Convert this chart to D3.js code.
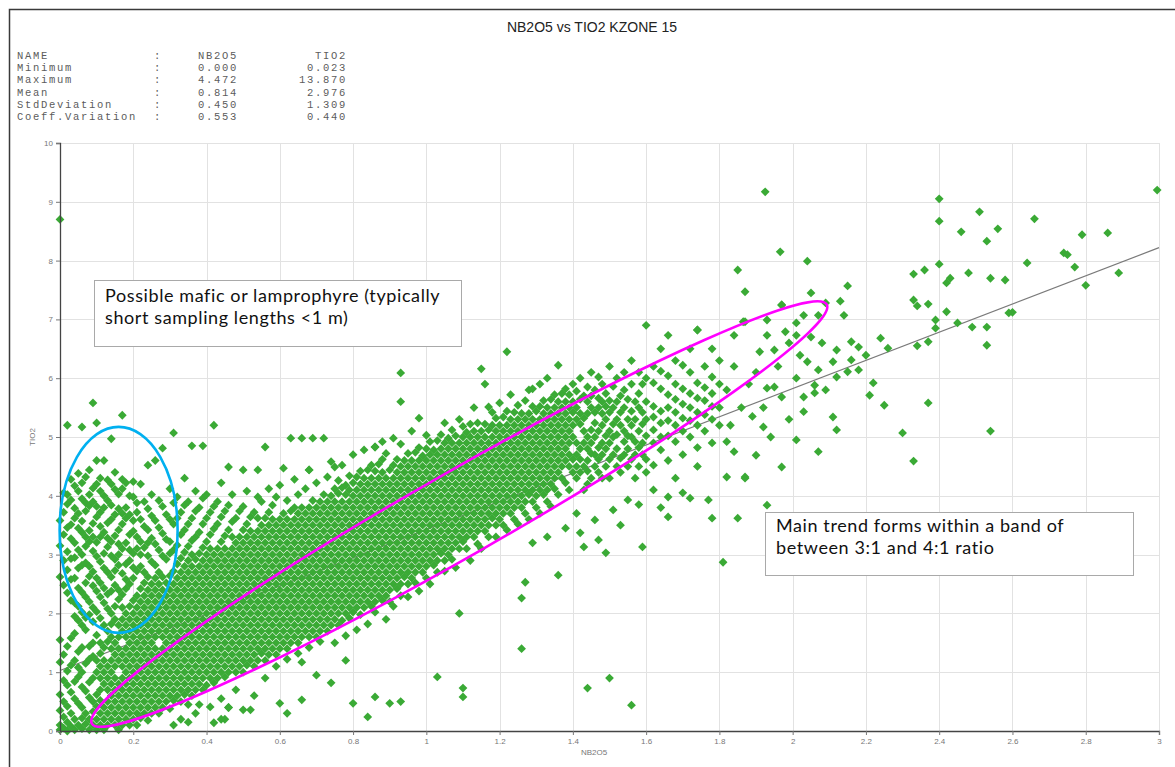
<!DOCTYPE html>
<html>
<head>
<meta charset="utf-8">
<title>NB2O5 vs TIO2 KZONE 15</title>
<script src="https://cdn.jsdelivr.net/npm/d3@7"></script>
<style>
  body { margin: 0; background: #fff; }
  svg { display: block; }
  .axis-text { font-family: "Liberation Sans", Arial, sans-serif; font-size: 8px; fill: #777; }
  .stats { font-family: "Liberation Mono", "Courier New", monospace; font-size: 10.5px; fill: #5c5c5c; letter-spacing: 1.7px; }
  .note { font-family: Lato, "Open Sans", sans-serif; font-size: 18px; letter-spacing: 0.6px; fill: #111; }
</style>
</head>
<body>
<div id="chart"></div>
<script>
// Summary statistics printed above the plot
const statNames = ["NAME", "Minimum", "Maximum", "Mean", "StdDeviation", "Coeff.Variation"];
const statNb2o5 = ["NB2O5", "0.000", "4.472", "0.814", "0.450", "0.553"];
const statTio2 = ["TIO2", "0.023", "13.870", "2.976", "1.309", "0.440"];

// Axis ticks
const nb2o5Ticks = [0, 0.2, 0.4, 0.6, 0.8, 1, 1.2, 1.4, 1.6, 1.8, 2, 2.2, 2.4, 2.6, 2.8, 3];
const tio2Ticks = [0, 1, 2, 3, 4, 5, 6, 7, 8, 9, 10];

// Regression line end points (NB2O5 -> TIO2)
const trendNb2o5 = [0, 3];
const trendTio2 = [1.03, 8.22];

// Samples, grouped by NB2O5 value: [NB2O5, [TIO2 values]]
const sampleColumns = [
  [0.00, [0.02,0.1,0.35,0.62,1.17,1.55,2.62,3.15,3.58,8.7]],
  [0.01, [0.05,0.24,0.5,0.86,1.3,2.48,2.9,3.34,3.72,4.05]],
  [0.02, [0,0.15,0.42,0.78,1.02,1.44,2.35,2.74,3.05,3.46,3.86,4.02,5.2]],
  [0.03, [0.08,0.3,0.66,1.12,1.58,2.22,2.58,2.93,3.27,3.51,3.93,4.28]],
  [0.04, [0.02,0.2,0.55,0.84,1.2,1.66,1.95,2.18,2.6,2.95,3.2,3.62,3.79,4.17]],
  [0.05, [0.1,0.47,0.92,1.08,1.35,1.88,2.12,2.43,2.77,3.08,3.45,3.7,4.08,4.38]],
  [0.06, [0.04,0.22,0.4,0.75,1.0,1.42,1.8,2.02,2.36,2.82,3.0,3.38,3.57,3.95,4.22,5.17]],
  [0.07, [0.12,0.3,0.68,1.15,1.72,1.93,2.28,2.52,2.86,3.14,3.3,3.74,3.88,4.32]],
  [0.08, [0.02,0.2,0.57,0.83,1.22,1.44,1.98,2.2,2.63,2.8,3.22,3.41,3.83,4.02,4.44]],
  [0.09, [0.1,0.33,0.5,0.9,1.27,1.5,1.86,2.1,2.47,2.71,3.06,3.3,3.53,3.9,4.13,5.58]],
  [0.10, [0.02,0.2,0.42,0.62,1.0,1.2,1.63,2.03,2.38,2.6,2.97,3.21,3.64,3.82,4.2,4.6,5.24]],
  [0.11, [0.1,0.3,0.52,0.7,0.9,1.1,1.32,1.5,1.92,2.28,2.52,2.88,3.3,3.48,3.72,4.08,4.3]],
  [0.12, [0.02,0.2,0.4,0.8,1.0,1.2,1.42,1.8,2.18,2.43,2.77,3.02,3.38,3.8,4.0,4.6]],
  [0.13, [0.1,0.3,0.5,0.7,0.9,1.1,1.52,1.7,2.08,2.33,2.7,3.13,3.28,3.54,3.92,4.27]],
  [0.14, [0.2,0.4,0.6,0.8,1.0,1.2,1.4,1.6,1.82,2.0,2.38,2.62,2.98,3.22,3.6,3.84,4.2,4.97]],
  [0.15, [0.1,0.3,0.5,0.7,0.9,1.1,1.3,1.5,1.9,2.12,2.48,2.73,2.92,3.32,3.68,4.11,4.4]],
  [0.16, [0.02,0.2,0.4,0.6,0.8,1.2,1.4,1.6,1.8,2.24,2.4,2.82,3.0,3.18,3.42,3.78,4.03]],
  [0.17, [0.1,0.3,0.5,0.7,0.9,1.1,1.3,1.7,1.9,2.1,2.32,2.68,3.1,3.52,3.7,4.12,4.28,5.37]],
  [0.18, [0.2,0.4,0.6,0.8,1.0,1.2,1.4,1.6,1.8,2.0,2.42,2.58,2.84,3.2,3.62,3.8,4.22]],
  [0.19, [0.1,0.3,0.5,0.7,0.9,1.1,1.3,1.5,1.7,1.9,2.12,2.5,2.9,3.08,3.34,3.68,4.0]],
  [0.20, [0.2,0.4,0.6,0.8,1.0,1.2,1.4,1.6,1.8,2.0,2.22,2.6,2.78,3.02,3.4,3.58,3.98,4.24]],
  [0.21, [0.1,0.3,0.5,0.7,0.9,1.1,1.3,1.5,1.7,1.9,2.1,2.3,2.72,3.1,3.3,3.72,3.88]],
  [0.22, [0.22,0.4,0.6,0.8,1.0,1.2,1.4,1.6,1.8,2.0,2.2,2.42,2.8,3.0,3.22,3.6,4.2]],
  [0.23, [0.3,0.5,0.7,0.9,1.1,1.3,1.5,1.7,1.9,2.1,2.3,2.52,2.7,3.12,3.48,3.9]],
  [0.24, [0.18,0.4,0.6,0.8,1.0,1.2,1.4,1.6,1.8,2.0,2.2,2.4,2.62,2.98,3.2,3.42,3.78,4.52]],
  [0.25, [0.3,0.5,0.7,0.9,1.1,1.3,1.5,1.7,1.9,2.1,2.3,2.5,2.88,3.28,3.66,4.02]],
  [0.26, [0.4,0.6,0.8,1.0,1.2,1.4,1.6,1.8,2.0,2.2,2.4,2.6,2.82,3.18,3.58,4.6]],
  [0.27, [0.3,0.5,0.7,0.9,1.1,1.3,1.7,1.9,2.1,2.3,2.5,2.7,3.08,3.46,3.92]],
  [0.28, [0.4,0.6,0.8,1.0,1.2,1.4,1.6,1.8,2.0,2.2,2.4,2.62,2.98,3.36,3.82,4.81]],
  [0.29, [0.5,0.7,0.9,1.1,1.3,1.5,1.7,1.9,2.1,2.3,2.52,2.92,3.26,3.68]],
  [0.30, [0.38,0.6,0.8,1.0,1.2,1.4,1.6,1.8,2.0,2.2,2.4,2.64,3.02,3.22,3.6,4.12]],
  [0.31, [0.1,0.52,0.7,0.9,1.1,1.3,1.5,1.7,1.9,2.1,2.3,2.5,2.72,3.08,3.52,3.88,5.07]],
  [0.32, [0.6,0.8,1.0,1.2,1.4,1.6,1.8,2.0,2.2,2.4,2.6,2.84,3.16,3.62,3.98]],
  [0.33, [0.2,0.5,0.7,0.9,1.1,1.3,1.5,1.7,1.9,2.1,2.3,2.5,2.7,2.94,3.34,3.72]],
  [0.34, [0.62,0.8,1.0,1.2,1.4,1.6,1.8,2.0,2.2,2.4,2.6,2.8,3.04,3.42,3.84,4.3]],
  [0.35, [0.15,0.45,0.7,0.9,1.1,1.3,1.5,1.7,1.9,2.1,2.3,2.5,2.7,2.9,3.14,3.52,3.9]],
  [0.36, [0.6,0.8,1.0,1.2,1.4,1.6,1.8,2.0,2.2,2.4,2.6,2.8,3.0,3.24,3.62,4.85]],
  [0.37, [0.3,0.7,0.9,1.1,1.3,1.5,1.7,1.9,2.1,2.3,2.5,2.7,2.92,3.3,3.74,4.08]],
  [0.38, [0.45,0.8,1.0,1.2,1.4,1.6,1.8,2.0,2.2,2.4,2.6,2.8,3.02,3.38,3.8]],
  [0.39, [0.7,0.9,1.1,1.3,1.5,1.7,1.9,2.1,2.3,2.5,2.7,2.9,3.12,3.52,3.96,4.85]],
  [0.40, [0.78,1.0,1.2,1.4,1.6,1.8,2.0,2.2,2.4,2.6,2.8,3.0,3.22,3.62,4.02]],
  [0.41, [0.41,0.9,1.1,1.3,1.5,1.7,1.9,2.1,2.3,2.5,2.7,2.9,3.1,3.34,3.72]],
  [0.42, [0.14,0.82,1.0,1.2,1.4,1.6,1.8,2.0,2.2,2.4,2.6,2.8,3.0,3.44,3.82,5.2]],
  [0.43, [0.9,1.1,1.3,1.5,1.7,1.9,2.1,2.3,2.5,2.7,2.9,3.1,3.52,3.9]],
  [0.44, [0.55,1.0,1.2,1.4,1.6,1.8,2.0,2.2,2.4,2.6,2.8,3.0,3.22,3.64,4.22]],
  [0.45, [0.2,0.92,1.1,1.3,1.5,1.7,1.9,2.1,2.3,2.5,2.7,2.9,3.1,3.32,3.74]],
  [0.46, [0.4,1.0,1.2,1.4,1.6,1.8,2.0,2.2,2.4,2.6,2.8,3.0,3.42,3.84,4.49]],
  [0.47, [1.1,1.3,1.5,1.7,1.9,2.1,2.3,2.5,2.7,2.9,3.1,3.3,3.56,4.02]],
  [0.48, [0.7,1.0,1.2,1.4,1.6,1.8,2.0,2.2,2.4,2.6,2.8,3.0,3.2,3.62]],
  [0.49, [1.1,1.3,1.5,1.7,1.9,2.1,2.3,2.5,2.7,2.9,3.1,3.3,3.74]],
  [0.50, [0.36,1.0,1.2,1.4,1.6,1.8,2.0,2.2,2.4,2.6,2.8,3.0,3.2,3.42,3.82,4.44]],
  [0.51, [1.12,1.3,1.5,1.7,1.9,2.1,2.3,2.5,2.7,2.9,3.1,3.3,3.52,4.08]],
  [0.52, [0.36,1.2,1.4,1.6,1.8,2.0,2.2,2.4,2.6,2.8,3.0,3.2,3.4,3.64]],
  [0.53, [0.6,1.1,1.3,1.5,1.7,1.9,2.1,2.3,2.5,2.7,2.9,3.1,3.3,3.72]],
  [0.54, [1.2,1.4,1.6,1.8,2.0,2.2,2.4,2.6,2.8,3.0,3.2,3.4,3.62,3.98,4.44]],
  [0.55, [1.32,1.5,1.7,1.9,2.1,2.3,2.5,2.7,2.9,3.1,3.3,3.5,3.9]],
  [0.56, [0.9,1.2,1.4,1.6,1.8,2.0,2.2,2.4,2.6,2.8,3.0,3.2,3.4,3.62,4.83]],
  [0.57, [1.3,1.5,1.7,1.9,2.1,2.3,2.5,2.7,2.9,3.1,3.3,3.5,3.72,4.12]],
  [0.58, [1.4,1.6,1.8,2.0,2.2,2.4,2.6,2.8,3.0,3.2,3.4,3.6,3.84]],
  [0.59, [1.1,1.3,1.5,1.7,1.9,2.1,2.3,2.5,2.7,2.9,3.1,3.3,3.5,3.98]],
  [0.60, [0.47,1.4,1.6,1.8,2.0,2.2,2.4,2.6,2.8,3.0,3.2,3.4,3.6,4.18]],
  [0.61, [1.5,1.7,1.9,2.1,2.3,2.5,2.7,2.9,3.1,3.3,3.5,3.7,4.47]],
  [0.62, [0.3,1.22,1.4,1.6,1.8,2.0,2.2,2.4,2.6,2.8,3.0,3.2,3.4,3.6,3.92]],
  [0.63, [1.5,1.7,1.9,2.1,2.3,2.5,2.7,2.9,3.1,3.3,3.5,3.74,4.98]],
  [0.64, [1.6,1.8,2.0,2.2,2.4,2.6,2.8,3.0,3.2,3.4,3.6,3.8,4.28]],
  [0.65, [1.32,1.5,1.7,1.9,2.1,2.3,2.5,2.7,2.9,3.1,3.3,3.5,3.7,4.02]],
  [0.66, [0.53,1.17,1.6,1.8,2.0,2.2,2.4,2.6,2.8,3.0,3.2,3.4,3.6,3.8,4.98]],
  [0.67, [1.7,1.9,2.1,2.3,2.5,2.7,2.9,3.1,3.3,3.5,3.7,4.12]],
  [0.68, [1.42,1.6,1.8,2.0,2.2,2.4,2.6,2.8,3.0,3.2,3.4,3.6,3.8,4.44]],
  [0.69, [1.7,1.9,2.1,2.3,2.5,2.7,2.9,3.1,3.3,3.5,3.7,3.92,4.98]],
  [0.70, [0.95,1.6,1.8,2.0,2.2,2.4,2.6,2.8,3.0,3.2,3.4,3.6,3.8,4.22]],
  [0.71, [1.52,1.7,1.9,2.1,2.3,2.5,2.7,2.9,3.1,3.3,3.5,3.7,3.9]],
  [0.72, [1.8,2.0,2.2,2.4,2.6,2.8,3.0,3.2,3.4,3.6,3.8,4.02,4.98]],
  [0.73, [1.7,1.9,2.1,2.3,2.5,2.7,2.9,3.1,3.3,3.5,3.7,3.9,4.32]],
  [0.74, [0.82,1.8,2.0,2.2,2.4,2.6,2.8,3.0,3.2,3.4,3.6,3.8,4.0,4.58]],
  [0.75, [1.5,1.9,2.1,2.3,2.5,2.7,2.9,3.1,3.3,3.5,3.7,3.9,4.12,4.49]],
  [0.76, [1.8,2.0,2.2,2.4,2.6,2.8,3.0,3.2,3.4,3.6,3.8,4.04,4.26]],
  [0.77, [1.88,2.1,2.3,2.5,2.7,2.9,3.1,3.3,3.5,3.7,3.9,4.14,4.52]],
  [0.78, [1.2,1.62,2.0,2.2,2.4,2.6,2.8,3.0,3.2,3.4,3.6,3.8,4.02,4.18]],
  [0.79, [1.92,2.1,2.3,2.5,2.7,2.9,3.1,3.3,3.5,3.7,3.9,4.1,4.34]],
  [0.80, [0.47,2.02,2.2,2.4,2.6,2.8,3.0,3.2,3.4,3.6,3.8,4.0,4.22,4.7]],
  [0.81, [1.72,2.1,2.3,2.5,2.7,2.9,3.1,3.3,3.5,3.7,3.9,4.1,4.32]],
  [0.82, [1.98,2.2,2.4,2.6,2.8,3.0,3.2,3.4,3.6,3.8,4.0,4.2,4.42]],
  [0.83, [2.1,2.3,2.5,2.7,2.9,3.1,3.3,3.5,3.7,3.9,4.1,4.3,4.78]],
  [0.84, [0.24,1.82,2.2,2.4,2.6,2.8,3.0,3.2,3.4,3.6,3.8,4.0,4.2,4.44]],
  [0.85, [2.12,2.3,2.5,2.7,2.9,3.1,3.3,3.5,3.7,3.9,4.1,4.3,4.52]],
  [0.86, [0.58,2.02,2.2,2.4,2.6,2.8,3.0,3.2,3.4,3.6,3.8,4.0,4.2,4.42,4.83]],
  [0.87, [2.3,2.5,2.7,2.9,3.1,3.3,3.5,3.7,3.9,4.1,4.3,4.54]],
  [0.88, [2.22,2.4,2.6,2.8,3.0,3.2,3.4,3.6,3.8,4.0,4.2,4.4,4.62,4.92]],
  [0.89, [1.9,2.3,2.5,2.7,2.9,3.1,3.3,3.5,3.7,3.9,4.1,4.3,4.72]],
  [0.90, [0.47,2.2,2.4,2.6,2.8,3.0,3.2,3.4,3.6,3.8,4.0,4.2,4.44]],
  [0.91, [2.12,2.5,2.7,2.9,3.1,3.3,3.5,3.7,3.9,4.1,4.3,4.52,4.98]],
  [0.92, [2.42,2.6,2.8,3.0,3.2,3.4,3.6,3.8,4.0,4.2,4.4,4.62]],
  [0.93, [0.5,2.3,2.5,2.7,2.9,3.1,3.3,3.5,3.7,3.9,4.1,4.3,4.5,4.88,5.6,6.09]],
  [0.94, [2.62,2.8,3.0,3.2,3.4,3.6,3.8,4.0,4.2,4.4,4.6]],
  [0.95, [2.28,2.5,2.7,2.9,3.1,3.3,3.5,3.7,3.9,4.1,4.3,4.5,4.72]],
  [0.96, [2.6,2.8,3.0,3.2,3.4,3.6,3.8,4.0,4.2,4.4,4.6,5.1]],
  [0.97, [2.52,2.7,2.9,3.1,3.3,3.5,3.7,3.9,4.1,4.3,4.5,4.74]],
  [0.98, [2.38,2.8,3.0,3.2,3.4,3.6,3.8,4.0,4.2,4.4,4.6,4.82,5.32]],
  [0.99, [2.7,2.9,3.1,3.3,3.5,3.7,3.9,4.1,4.3,4.5,4.68]],
  [1.00, [2.6,2.8,3.0,3.2,3.4,3.6,3.8,4.0,4.2,4.4,4.6,4.8,5.03]],
  [1.01, [2.5,2.9,3.1,3.3,3.5,3.7,3.9,4.1,4.3,4.5,4.7,4.92]],
  [1.02, [2.82,3.0,3.2,3.4,3.6,3.8,4.0,4.2,4.4,4.6,4.78]],
  [1.03, [0.92,2.7,2.9,3.1,3.3,3.5,3.7,3.9,4.1,4.3,4.5,4.7,4.94]],
  [1.04, [3.02,3.2,3.4,3.6,3.8,4.0,4.2,4.4,4.6,4.8,5.04]],
  [1.05, [2.72,2.9,3.1,3.3,3.5,3.7,3.9,4.1,4.3,4.5,4.7,4.9,5.24]],
  [1.06, [3.0,3.2,3.4,3.6,3.8,4.0,4.2,4.4,4.6,4.8,4.98]],
  [1.07, [2.92,3.1,3.3,3.5,3.7,3.9,4.1,4.3,4.5,4.7,4.9,5.12]],
  [1.08, [2.78,3.2,3.4,3.6,3.8,4.0,4.2,4.4,4.6,4.8,5.02]],
  [1.09, [2.0,3.1,3.3,3.5,3.7,3.9,4.1,4.3,4.5,4.7,4.9,5.3]],
  [1.10, [0.58,0.73,3.22,3.4,3.6,3.8,4.0,4.2,4.4,4.6,4.8,5.0,5.18]],
  [1.11, [3.1,3.3,3.5,3.7,3.9,4.1,4.3,4.5,4.7,4.9,5.08]],
  [1.12, [2.9,3.4,3.6,3.8,4.0,4.2,4.4,4.6,4.8,5.0,5.22]],
  [1.13, [3.3,3.5,3.7,3.9,4.1,4.3,4.5,4.7,4.9,5.1,5.5]],
  [1.14, [3.18,3.4,3.6,3.8,4.0,4.2,4.4,4.6,4.8,5.0,5.24]],
  [1.15, [3.1,3.5,3.7,3.9,4.1,4.3,4.5,4.7,4.9,5.1,6.16]],
  [1.16, [3.4,3.6,3.8,4.0,4.2,4.4,4.6,4.8,5.0,5.22,5.9]],
  [1.17, [3.3,3.5,3.7,3.9,4.1,4.3,4.5,4.7,4.9,5.12,5.51]],
  [1.18, [3.62,3.8,4.0,4.2,4.4,4.6,4.8,5.0,5.2,5.42]],
  [1.19, [3.3,3.5,3.7,3.9,4.1,4.3,4.5,4.7,4.9,5.1,5.32]],
  [1.20, [3.6,3.8,4.0,4.2,4.4,4.6,4.8,5.0,5.2,5.58]],
  [1.21, [3.5,3.7,3.9,4.1,4.3,4.5,4.7,4.9,5.1,5.34]],
  [1.22, [3.42,3.8,4.0,4.2,4.4,4.6,4.8,5.0,5.2,5.44,6.45]],
  [1.23, [3.7,3.9,4.1,4.3,4.5,4.7,4.9,5.1,5.3,5.72]],
  [1.24, [3.6,3.8,4.0,4.2,4.4,4.6,4.8,5.0,5.2,5.42]],
  [1.25, [3.52,3.9,4.1,4.3,4.5,4.7,4.9,5.1,5.3,5.54]],
  [1.26, [1.4,2.26,3.8,4.0,4.2,4.4,4.6,4.8,5.0,5.2,5.4]],
  [1.27, [2.53,3.7,3.9,4.1,4.3,4.5,4.7,4.9,5.1,5.3,5.62]],
  [1.28, [3.6,4.02,4.2,4.4,4.6,4.8,5.0,5.2,5.4,5.8]],
  [1.29, [3.2,3.9,4.1,4.3,4.5,4.7,4.9,5.1,5.3,5.52,5.82]],
  [1.30, [3.8,4.0,4.2,4.4,4.6,4.8,5.0,5.2,5.44]],
  [1.31, [3.7,4.1,4.3,4.5,4.7,4.9,5.1,5.3,5.52,5.9]],
  [1.32, [4.02,4.2,4.4,4.6,4.8,5.0,5.2,5.4,5.62]],
  [1.33, [3.3,3.9,4.1,4.3,4.5,4.7,4.9,5.1,5.3,5.5,6.0]],
  [1.34, [3.82,4.2,4.4,4.6,4.8,5.0,5.2,5.4,5.64]],
  [1.35, [4.12,4.3,4.5,4.7,4.9,5.1,5.3,5.5,5.72]],
  [1.36, [2.65,4.02,4.4,4.6,4.8,5.0,5.2,5.4,5.6,6.22]],
  [1.37, [4.3,4.5,4.7,4.9,5.1,5.3,5.5,5.74]],
  [1.38, [3.45,4.22,4.6,4.8,5.0,5.2,5.4,5.6,5.82]],
  [1.39, [4.1,4.5,4.7,4.9,5.1,5.3,5.5,5.72]],
  [1.40, [4.4,4.62,5.0,5.2,5.42,5.6,5.9]],
  [1.41, [3.7,4.3,4.5,4.7,4.9,5.3,5.5,5.78]],
  [1.42, [3.37,4.4,4.62,4.8,5.22,5.4,5.64,6.0]],
  [1.43, [3.13,4.1,4.5,4.9,5.1,5.32,5.7]],
  [1.44, [0.73,4.2,4.42,4.6,4.8,5.0,5.4,5.6,5.85]],
  [1.45, [4.3,4.72,4.9,5.12,5.5,5.7,6.1]],
  [1.46, [3.59,4.5,4.7,5.0,5.24,5.42,5.8]],
  [1.47, [3.25,4.4,4.62,4.82,5.1,5.5,5.66,6.02]],
  [1.48, [4.3,4.7,4.9,5.2,5.4,5.6,5.9]],
  [1.49, [3.03,4.5,4.8,5.02,5.3,5.52,5.74]],
  [1.50, [0.9,4.3,4.62,4.9,5.1,5.42,5.62,6.2]],
  [1.51, [3.76,4.7,5.0,5.22,5.5,5.86]],
  [1.52, [4.5,4.8,5.04,5.3,5.6,6.0]],
  [1.53, [3.5,4.4,4.64,5.2,5.42,5.7]],
  [1.54, [4.7,4.92,5.1,5.5,5.8,6.1]],
  [1.55, [3.93,4.5,4.8,5.02,5.3,5.64]],
  [1.56, [0.44,4.62,5.0,5.2,5.44,5.9,6.3]],
  [1.57, [4.3,4.7,4.92,5.3,5.6]],
  [1.58, [3.85,4.5,4.82,5.1,5.5,5.74,6.1]],
  [1.59, [3.13,4.7,4.9,5.22,5.42,5.9]],
  [1.60, [4.4,4.62,5.02,5.3,5.6,6.0,6.9]],
  [1.62, [4.1,4.52,4.9,5.12,5.34,5.52,5.92,6.2]],
  [1.64, [3.8,4.78,5.0,5.24,5.44,5.82,6.12,6.5]],
  [1.66, [3.64,3.98,4.6,5.02,5.28,5.5,5.72,6.04,6.73]],
  [1.68, [4.3,4.92,5.2,5.42,5.64,5.9,6.3]],
  [1.70, [4.05,4.7,5.1,5.32,5.56,5.82,6.22]],
  [1.72, [3.96,5.0,5.28,5.5,5.74,6.1,6.5]],
  [1.74, [4.5,4.82,5.2,5.42,5.66,5.92,6.82]],
  [1.76, [5.1,5.38,5.62,5.84,6.2]],
  [1.78, [3.62,4.9,5.3,5.52,5.74,6.02,6.5]],
  [1.80, [5.2,5.5,5.9,6.3]]
];

// Isolated samples: [NB2O5, TIO2]
const isolatedSamples = [
  [0.68,4.44],[0.86,4.83],[0.46,0.4],[0.44,0.2],
  [1.77,3.93],[1.85,3.62],[1.93,3.84],[1.81,2.87],[1.82,4.32],[1.87,4.32],[1.84,4.75],
  [1.82,4.92],[1.9,4.69],[1.87,4.3],[1.97,4.49],[1.94,5.0],[1.92,5.17],[2.01,4.95],
  [2.12,5.12],[2.07,4.75],
  [1.925,9.17],[1.966,8.15],[2.04,7.99],[1.85,7.84],[1.87,7.47],[2.05,7.45],[1.97,7.25],
  [2.09,7.28],[2.13,7.31],[2.15,7.57],[2.14,7.07],[1.93,6.99],[1.865,6.96],[2.01,6.94],
  [2.03,7.07],[2.07,7.07],[1.98,6.79],[1.93,6.73],[2.01,6.73],[1.84,6.73],[2.05,6.7],
  [1.99,6.6],[2.08,6.6],[2.16,6.62],[2.18,6.53],[2.24,6.68],[2.2,6.39],[2.26,6.51],
  [1.91,6.45],[1.95,6.48],[2.02,6.39],[2.12,6.48],[2.11,6.28],[2.16,6.31],[2.18,6.14],
  [2.15,6.11],[2.12,6.02],[2.04,6.28],[2.07,6.14],[2.01,6.0],[1.93,5.83],[2.06,5.88],
  [1.97,5.68],[2.09,5.8],[2.03,5.68],[2.06,5.75],[2.22,5.92],[2.21,5.71],[2.11,5.34],
  [2.03,5.43],[1.84,6.2],[1.88,5.9],[1.86,5.5],[1.83,5.2],[1.9,6.1],[1.96,6.2],[1.89,5.35],
  [1.82,5.8],[1.92,5.5],[1.99,5.3],[1.95,5.85],[1.97,7.24],[1.74,6.82],[1.87,6.96],
  [2.3,5.07],[2.33,4.59],[2.54,5.1],[2.37,5.58],[2.25,5.54],
  [2.33,7.77],[2.36,7.84],[2.4,7.94],[2.42,7.62],[2.43,7.7],[2.48,7.79],[2.54,7.7],
  [2.58,7.67],[2.64,7.96],[2.74,8.13],[2.75,8.1],[2.77,7.89],[2.8,7.58],[2.89,7.79],
  [2.33,7.33],[2.34,7.23],[2.37,7.26],[2.42,7.13],[2.39,6.99],[2.45,6.94],[2.39,6.85],
  [2.49,6.87],[2.53,6.87],[2.59,7.11],[2.6,7.12],[2.37,6.62],[2.34,6.55],[2.53,6.56],
  [2.4,9.05],[2.4,8.67],[2.46,8.49],[2.51,8.83],[2.53,8.33],[2.56,8.54],[2.66,8.71],
  [2.79,8.44],[2.86,8.47],[2.995,9.2]
];

const width = 1175, height = 767;
const plotLeft = 60, plotRight = 1159, plotTop = 143, plotBottom = 731;

const svg = d3.select("#chart")
  .append("svg")
  .attr("width", width)
  .attr("height", height);

svg.append("rect").attr("width", width).attr("height", height).attr("fill", "#fff");

// Outer frame (top and left edges only)
svg.append("path")
  .attr("d", `M9.5,${height}V9.5H${width}`)
  .attr("fill", "none")
  .attr("stroke", "#3a3a3a")
  .attr("stroke-width", 1.5);

const x = d3.scaleLinear().domain([0, 3]).range([plotLeft, plotRight]);
const y = d3.scaleLinear().domain([0, 10]).range([plotBottom, plotTop]);

// Grid
const grid = svg.append("g").attr("stroke", "#e2e2e2").attr("stroke-width", 1);
grid.selectAll(".vgrid")
  .data(nb2o5Ticks.slice(1))
  .join("line")
  .attr("x1", d => Math.round(x(d)) + 0.5).attr("x2", d => Math.round(x(d)) + 0.5)
  .attr("y1", plotTop).attr("y2", plotBottom);
grid.selectAll(".hgrid")
  .data(tio2Ticks.slice(1))
  .join("line")
  .attr("x1", plotLeft).attr("x2", plotRight)
  .attr("y1", d => Math.round(y(d)) + 0.5).attr("y2", d => Math.round(y(d)) + 0.5);

// Regression line
svg.append("line")
  .attr("x1", x(trendNb2o5[0])).attr("y1", y(trendTio2[0]))
  .attr("x2", x(trendNb2o5[1])).attr("y2", y(trendTio2[1]))
  .attr("stroke", "#7a7a7a")
  .attr("stroke-width", 1.2);

// Points
const points = [];
sampleColumns.forEach(([nb, values]) => values.forEach(t => points.push({ nb2o5: nb, tio2: t })));
isolatedSamples.forEach(([nb, t]) => points.push({ nb2o5: nb, tio2: t }));

const r = 4.4;
svg.append("g")
  .selectAll("path")
  .data(points)
  .join("path")
  .attr("d", `M0,${-r}L${r},0L0,${r}L${-r},0Z`)
  .attr("transform", d => `translate(${x(d.nb2o5)},${y(d.tio2)})`)
  .attr("fill", "#3aaa35");

// Axes
const xAxis = svg.append("g")
  .attr("transform", `translate(0,${plotBottom})`)
  .call(d3.axisBottom(x).tickValues(nb2o5Ticks).tickSize(4).tickPadding(3).tickFormat(d3.format("~g")));
const yAxis = svg.append("g")
  .attr("transform", `translate(${plotLeft},0)`)
  .call(d3.axisLeft(y).tickValues(tio2Ticks).tickSize(4).tickPadding(3).tickFormat(d3.format("~g")));
[xAxis, yAxis].forEach(a => {
  a.select(".domain").attr("stroke", "#444").attr("stroke-width", 1.3);
  a.selectAll(".tick line").attr("stroke", "#777");
  a.selectAll(".tick text").attr("class", "axis-text").attr("fill", null);
});

svg.append("text")
  .attr("class", "axis-text")
  .attr("x", 594).attr("y", 755)
  .attr("text-anchor", "middle")
  .text("NB2O5");
svg.append("text")
  .attr("class", "axis-text")
  .attr("transform", `translate(35,${(plotTop + plotBottom) / 2}) rotate(-90)`)
  .attr("text-anchor", "middle")
  .text("TIO2");

// Highlight ellipses
svg.append("ellipse")
  .attr("cx", x(0.16)).attr("cy", y(3.42))
  .attr("rx", 59).attr("ry", 103)
  .attr("fill", "none")
  .attr("stroke", "#00b0f0")
  .attr("stroke-width", 2.6);
svg.append("ellipse")
  .attr("transform", `translate(${x(1.09)},${y(3.69)}) rotate(-29.7)`)
  .attr("rx", 423).attr("ry", 42)
  .attr("fill", "none")
  .attr("stroke", "#ff00ff")
  .attr("stroke-width", 2.6);

// Annotation boxes
const notes = [
  { left: 94, top: 280, w: 367, h: 66, first: 22, lines: ["Possible mafic or lamprophyre (typically", "short sampling lengths <1 m)"] },
  { left: 765, top: 512, w: 368, h: 63, first: 20, lines: ["Main trend forms within a band of", "between 3:1 and 4:1 ratio"] }
];
notes.forEach(n => {
  const g = svg.append("g");
  g.append("rect")
    .attr("x", n.left + 0.5).attr("y", n.top + 0.5)
    .attr("width", n.w).attr("height", n.h)
    .attr("fill", "#fff")
    .attr("stroke", "#a9a9a9");
  n.lines.forEach((line, i) => {
    g.append("text")
      .attr("class", "note")
      .attr("x", n.left + 11)
      .attr("y", n.top + n.first + i * 22)
      .text(line);
  });
});

// Statistics block
const stats = svg.append("g").attr("class", "stats");
statNames.forEach((name, i) => {
  const yy = 59 + i * 12.2;
  stats.append("text").attr("x", 17).attr("y", yy).text(name);
  stats.append("text").attr("x", 154).attr("y", yy).text(":");
  stats.append("text").attr("x", 198).attr("y", yy).text(statNb2o5[i]);
  stats.append("text").attr("x", 347).attr("y", yy).attr("text-anchor", "end").text(statTio2[i]);
});

// Title
svg.append("text")
  .attr("x", 592).attr("y", 32)
  .attr("text-anchor", "middle")
  .attr("font-family", "'Liberation Sans', Arial, sans-serif")
  .attr("font-size", 14)
  .attr("fill", "#222")
  .text("NB2O5 vs TIO2 KZONE 15");
</script>
</body>
</html>
